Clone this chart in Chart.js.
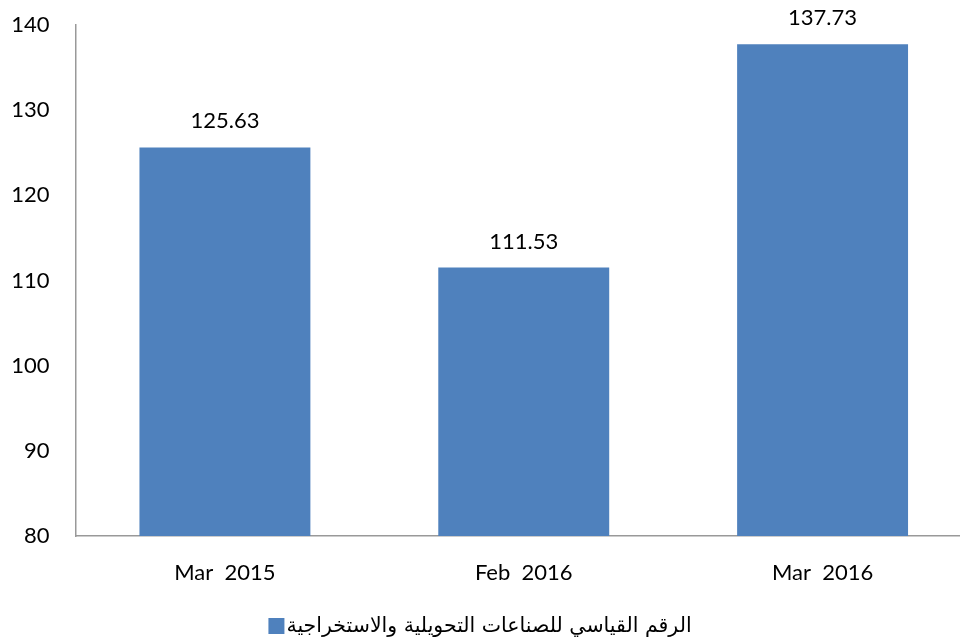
<!DOCTYPE html>
<html>
<head>
<meta charset="utf-8">
<script src="https://cdn.jsdelivr.net/npm/chart.js@4/dist/chart.umd.min.js"></script>
<style>
html,body{margin:0;padding:0;background:#fff;overflow:hidden;width:960px;height:641px;}
#wrap{position:relative;width:972px;height:641px;}
</style>
</head>
<body>
<div id="wrap"><canvas id="c"></canvas></div>
<script>
const categories = ["Mar  2015", "Feb  2016", "Mar  2016"];
const seriesName = "الرقم القياسي للصناعات التحويلية والاستخراجية";
const values = [125.63, 111.53, 137.73];
const yMin = 80, yMax = 140, yStep = 10;

const valueLabels = {
  id: 'valueLabels',
  afterDatasetsDraw(chart) {
    const ctx = chart.ctx;
    const meta = chart.getDatasetMeta(0);
    ctx.save();
    ctx.font = '22px Lato';
    ctx.fillStyle = '#000';
    ctx.textAlign = 'center';
    ctx.textBaseline = 'middle';
    meta.data.forEach((bar, i) => {
      ctx.fillText(values[i].toFixed(2), bar.x, bar.y - 26);
    });
    ctx.restore();
  }
};

// legend drawn below the axis: box on the left, Arabic label right after it
const customLegend = {
  id: 'customLegend',
  afterDraw(chart) {
    const ctx = chart.ctx;
    const ds = chart.data.datasets[0];
    ctx.save();
    ctx.font = '20.5px "DejaVu Sans"';
    ctx.direction = 'rtl';
    const tw = ctx.measureText(ds.label).width;
    const box = 16, gap = 2;
    const total = box + gap + tw;
    const cx = 480;
    const x0 = cx - total / 2;
    const cy = 626;
    ctx.fillStyle = ds.backgroundColor;
    ctx.fillRect(x0, cy - box / 2, box, box);
    ctx.fillStyle = '#000';
    ctx.textBaseline = 'middle';
    ctx.textAlign = 'right';
    ctx.fillText(ds.label, x0 + box + gap + tw, cy + 1);
    ctx.restore();
  }
};

new Chart(document.getElementById('c'), {
  type: 'bar',
  data: {
    labels: categories,
    datasets: [{
      label: seriesName,
      data: values,
      backgroundColor: '#4F81BD',
      borderWidth: 0,
      barPercentage: 0.572,
      categoryPercentage: 1
    }]
  },
  options: {
    responsive: true,
    maintainAspectRatio: false,
    animation: false,
    layout: { padding: { top: 25, left: 0, right: 0, bottom: 40 } },
    plugins: {
      legend: { display: false },
      tooltip: { enabled: false }
    },
    scales: {
      x: {
        grid: { display: false, drawTicks: false },
        border: { display: true, color: '#999', width: 1.5 },
        ticks: { font: { family: 'Lato', size: 22 }, color: '#000', padding: 24 },
        afterFit(s) { s.height = 65; }
      },
      y: {
        min: yMin, max: yMax,
        grid: { display: false, drawTicks: false },
        border: { display: true, color: '#999', width: 1.5 },
        ticks: { stepSize: yStep, font: { family: 'Lato', size: 22 }, color: '#000', padding: 26 },
        afterFit(s) { s.width = 75.5; s.paddingTop = 0; s.paddingBottom = 0; }
      }
    }
  },
  plugins: [valueLabels, customLegend]
});
</script>
</body>
</html>
